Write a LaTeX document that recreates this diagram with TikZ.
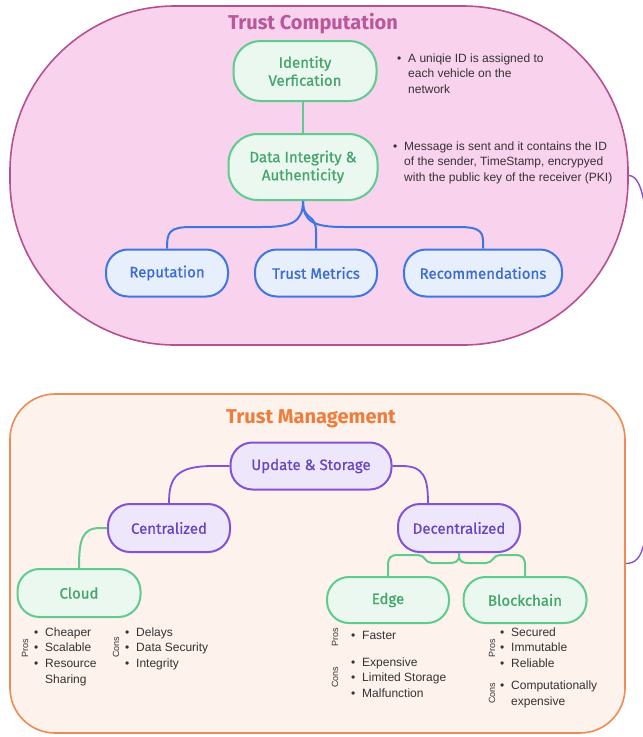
\documentclass[tikz,border=0pt]{standalone}
\usepackage{fontspec}
\setmainfont{Liberation Sans}
\newfontfamily\fira{Fira Sans}
\newfontfamily\firam{Fira Sans}[FakeBold=0.8]
\usetikzlibrary{calc}
\definecolor{pinkfill}{HTML}{F9D2EE}
\definecolor{pinkline}{HTML}{B5518F}
\definecolor{pinktitle}{HTML}{B8579A}
\definecolor{gfill}{HTML}{EAF8EF}
\definecolor{gline}{HTML}{5FCB8E}
\definecolor{gtext}{HTML}{45A56C}
\definecolor{bfill}{HTML}{E7EEFC}
\definecolor{bline}{HTML}{3F76E2}
\definecolor{btext}{HTML}{3A6BD2}
\definecolor{pfill}{HTML}{EEE7FB}
\definecolor{pline}{HTML}{8452D6}
\definecolor{ptext}{HTML}{6A45C2}
\definecolor{ofill}{HTML}{FEF2EC}
\definecolor{oline}{HTML}{EE8A55}
\definecolor{otitle}{HTML}{EE7D3C}
\definecolor{txt}{HTML}{333333}
\newcommand{\bul}{\makebox[11pt][l]{\textbullet}}
\newcommand{\ind}{\hspace*{11pt}}
\tikzset{
  box/.style={draw, line width=2pt, rounded corners=22, align=center, inner sep=2pt,
    font=\firam\fontsize{15}{18}\selectfont},
  gbox/.style={box, draw=gline, fill=gfill, text=gtext},
  bbox/.style={box, draw=bline, fill=bfill, text=btext},
  pbox/.style={box, draw=pline, fill=pfill, text=ptext},
  gcon/.style={draw=gline, line width=2pt},
  bcon/.style={draw=bline, line width=2pt},
  pcon/.style={draw=pline, line width=1.8pt},
  note/.style={anchor=north west, align=left, text=txt, inner sep=0pt,
    font=\fontsize{12}{15.6}\selectfont},
  side/.style={rotate=90, text=txt, inner sep=0pt, font=\fontsize{9}{9}\selectfont},
  title/.style={font=\fira\bfseries\fontsize{20}{24}\selectfont, inner sep=0pt}
}
\begin{document}
\begin{tikzpicture}[x=1pt, y=-1pt]
\useasboundingbox (0,0) rectangle (643,737);
% containers
\node[draw=pinkline, fill=pinkfill, line width=1.6pt, rounded corners=165,
  minimum width=618, minimum height=339] (tc) at (319,175.5) {};
\node[draw=oline, fill=ofill, line width=1.6pt, rounded corners=45,
  minimum width=615, minimum height=339] (tm) at (317.5,563.5) {};
\node[title, text=pinktitle] (t1) at (313,24) {Trust Computation};
\node[title, text=otitle] (t2) at (311,419) {Trust Management};
% top nodes
\node[gbox, rounded corners=27, minimum width=143, minimum height=60] (id) at (305,71) {Identity\\Verfication};
\node[gbox, rounded corners=29, minimum width=149, minimum height=66] (di) at (303,167) {Data Integrity \&\\Authenticity};
\node[bbox, minimum width=122, minimum height=47] (rep) at (167,273) {Reputation};
\node[bbox, minimum width=122, minimum height=47] (tmet) at (316,273) {Trust Metrics};
\node[bbox, minimum width=158, minimum height=47] (rec) at (483,273) {Recommendations};
% top connectors
\draw[gcon] (id.south -| di.north) -- (di.north);
\draw[bcon] (di.south) .. controls (303,222) and (292,227) .. (262,227) -- (192,227)
  .. controls (169,227) and (167,232) .. (rep.north);
\draw[bcon] (di.south) .. controls (303,222) and (316,212) .. (316,232) -- (tmet.north);
\draw[bcon] (di.south) .. controls (303,222) and (314,227) .. (344,227) -- (458,227)
  .. controls (482,227) and (484,232) .. (rec.north);
% notes
\node[note] (n1) at (397,53.4) {\bul A uniqie ID is assigned to\\\ind each vehicle on the\\\ind network};
\node[note] (n2) at (393,141.4) {\bul Message is sent and it contains the ID\\\ind of the sender, TimeStamp, encrypyed\\\ind with the public key of the receiver (PKI)};
% bottom nodes
\node[pbox, minimum width=161, minimum height=47] (up) at (311,466) {Update \& Storage};
\node[pbox, minimum width=122, minimum height=48] (cen) at (169,528) {Centralized};
\node[pbox, minimum width=122, minimum height=48] (dec) at (459,528) {Decentralized};
\node[gbox, minimum width=123, minimum height=48] (cloud) at (79,593) {Cloud};
\node[gbox, minimum width=122, minimum height=46] (edge) at (388,600) {Edge};
\node[gbox, minimum width=123, minimum height=46] (blk) at (525,600) {Blockchain};
% bottom connectors
\draw[pcon] (up.west) -- (213,466) .. controls (176,466) and (169,478) .. (cen.north);
\draw[pcon] (up.east) -- (402,466) .. controls (424,466) and (428,478) .. ($(dec.north)+(-31,0)$);
\draw[gcon] (cen.west) -- (100,528) .. controls (82,528) and (79,540) .. (cloud.north);
\draw[gcon] (dec.south) -- (459,555) .. controls (459,562) and (455,563) .. (449,563) -- (432,563)
  .. controls (425,563) and (425,555) .. (418,555) -- (398,555)
  .. controls (390,555) and (388,558) .. (388,566) -- (edge.north);
\draw[gcon] (dec.south) -- (459,555) .. controls (459,562) and (463,563) .. (469,563) -- (486,563)
  .. controls (493,563) and (493,555) .. (500,555) -- (515,555)
  .. controls (523,555) and (525,558) .. (525,566) -- (blk.north);
% link between containers
\draw[pcon, line width=1.4pt] (tc.east) .. controls (645,176) and (648,220) .. (648,280) -- (648,470)
  .. controls (648,540) and (645,563.5) .. (tm.east);
% pros / cons
\node[side] (cpl) at (25,648) {Pros};
\node[note] (cpt) at (34,627.4) {\bul Cheaper\\\bul Scalable\\\bul Resource\\\ind Sharing};
\node[side] (ccl) at (116,647) {Cons};
\node[note] (cct) at (125,627.4) {\bul Delays\\\bul Data Security\\\bul Integrity};
\node[side] (epl) at (335,637) {Pros};
\node[note] (ept) at (351,631.4) {\bul Faster};
\node[side] (ecl) at (335,677) {Cons};
\node[note] (ect) at (351,657.4) {\bul Expensive\\\bul Limited Storage\\\bul Malfunction};
\node[side] (bpl) at (492,648) {Pros};
\node[note] (bpt) at (500,627.4) {\bul Secured\\\bul Immutable\\\bul Reliable};
\node[side] (bcl) at (492,693) {Cons};
\node[note, font=\fontsize{12}{16.5}\selectfont] (bct) at (500,680.4) {\bul Computationally\\\ind expensive};
\end{tikzpicture}
\end{document}
